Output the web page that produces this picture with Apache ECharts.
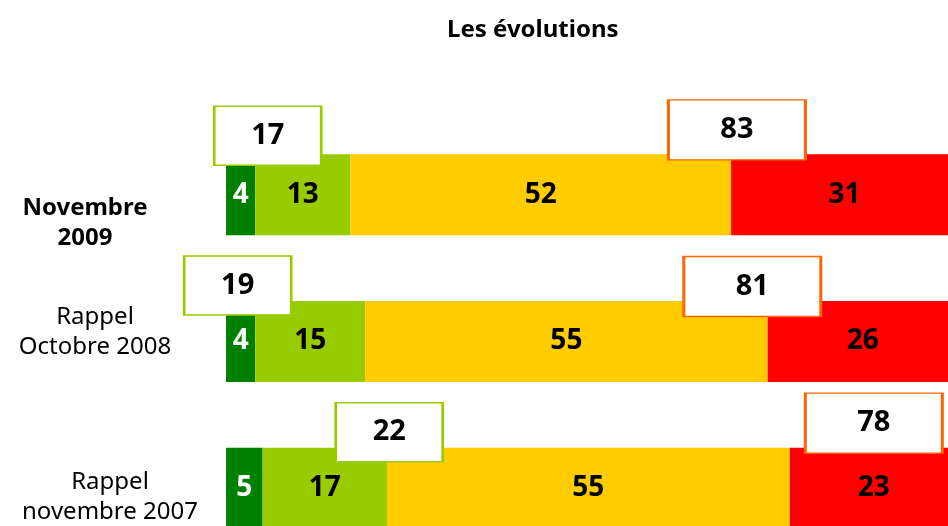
<!DOCTYPE html>
<html>
<head>
<meta charset="utf-8">
<script src="https://cdn.jsdelivr.net/npm/echarts@6/dist/echarts.min.js"></script>
<style>
  html, body { margin: 0; padding: 0; background: #fff; }
  #main { width: 948px; height: 526px; }
</style>
</head>
<body>
<div id="main"></div>
<script>
// categories (top to bottom)
var categories = ['Novembre\n2009', 'Rappel\nOctobre 2008', 'Rappel\nnovembre 2007'];
// stacked segments
var tresSatisfaits = [4, 4, 5];
var plutotSatisfaits = [13, 15, 17];
var plutotPas = [52, 55, 55];
var pasDuTout = [31, 26, 23];
// totals shown in the boxes
var totalNeg = [17, 19, 22];
var totalPos = [83, 81, 78];

// where the total boxes sit (x in axis units, y offset in px from bar centre)
var negBoxX = [5.7, 1.6, 22.3];
var negBoxDy = [-59, -56, -56];
var posBoxX = [69.8, 71.9, 88.5];
var posBoxDy = [-65, -55, -65];

var FONT = 'Noto Sans';

// horizontal nudges of the category labels, and spacer lines to move them up/down
var catLabelPad = [[0, 20, 0, 0], [0, 0, 0, 0], [0, 0, 0, 30]];

var chart = echarts.init(document.getElementById('main'));

function segment(name, values, color, textColor) {
    return {
        name: name,
        type: 'bar',
        stack: 'tot',
        barWidth: 81,
        data: values,
        itemStyle: {color: color},
        label: {
            show: true,
            position: 'inside',
            color: textColor,
            fontFamily: FONT,
            fontWeight: 'bold',
            fontSize: 28
        }
    };
}

function boxes(name, totals, xs, dys, size, border) {
    return {
        name: name,
        type: 'scatter',
        z: 5,
        symbol: 'rect',
        symbolSize: size,
        data: totals.map(function (t, i) {
            return {value: [xs[i], i, t], symbolOffset: [0, dys[i]]};
        }),
        itemStyle: {color: '#fff', borderColor: border, borderWidth: 2, opacity: 1},
        label: {
            show: true,
            position: 'inside',
            formatter: function (p) { return p.value[2]; },
            color: '#000',
            fontFamily: FONT,
            fontWeight: 'bold',
            fontSize: 29
        },
        emphasis: {disabled: true}
    };
}

chart.setOption({
    animation: false,
    title: {
        text: 'Les évolutions',
        left: 442,
        top: 13,
        textStyle: {fontFamily: FONT, fontWeight: 'bold', fontSize: 24, color: '#000'}
    },
    grid: {left: 226, top: 121.5, width: 732, height: 440, containLabel: false, outerBoundsMode: 'none'},
    xAxis: {
        type: 'value',
        min: 0,
        max: 100,
        show: false
    },
    yAxis: {
        type: 'category',
        inverse: true,
        data: categories.map(function (c, i) {
            return {
                value: c,
                textStyle: {
                    align: 'center',
                    verticalAlign: 'middle',
                    padding: catLabelPad[i]
                }
            };
        }),
        axisLine: {show: false},
        axisTick: {show: false},
        axisLabel: {
            interval: 0,
            margin: 131,
            align: 'center',
            verticalAlign: 'middle',
            color: '#000',
            fontFamily: FONT,
            fontSize: 24,
            formatter: function (value, index) {
                var st = index === 0 ? 'b' : 'n';
                var lines = value.split('\n').map(function (l) {
                    return '{' + st + '|' + l + '}';
                });
                if (index === 0) lines.unshift('{s56| }');
                if (index === 1) lines.push('{s18| }');
                if (index === 2) lines.unshift('{s18| }');
                return lines.join('\n');
            },
            rich: {
                n: {fontFamily: FONT, fontSize: 24, lineHeight: 30, color: '#000'},
                b: {fontFamily: FONT, fontSize: 24, lineHeight: 30, fontWeight: 'bold', color: '#000'},
                s56: {fontSize: 10, lineHeight: 56},
                s18: {fontSize: 10, lineHeight: 18}
            }
        }
    },
    series: [
        segment('Très satisfaits', tresSatisfaits, '#008000', '#fff'),
        segment('Plutôt satisfaits', plutotSatisfaits, '#99CC00', '#000'),
        segment('Plutôt pas satisfaits', plutotPas, '#FFCC00', '#000'),
        segment('Pas du tout satisfaits', pasDuTout, '#FF0000', '#000'),
        boxes('Total satisfaits', totalNeg, negBoxX, negBoxDy, [107, 59], '#99CC00'),
        boxes('Total pas satisfaits', totalPos, posBoxX, posBoxDy, [137, 60], '#FF6600')
    ]
});
</script>
</body>
</html>
